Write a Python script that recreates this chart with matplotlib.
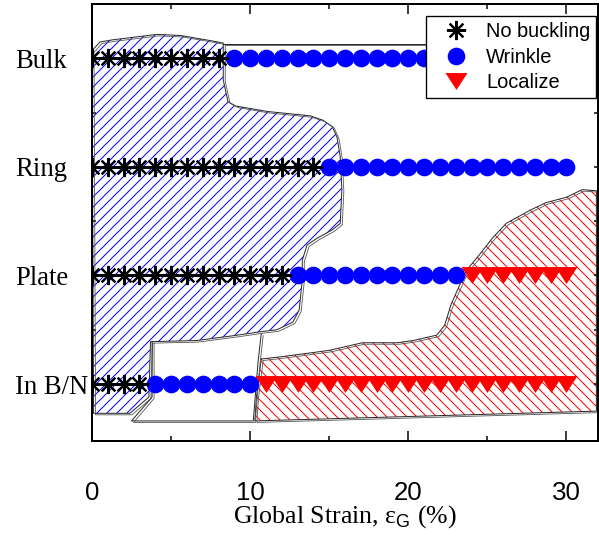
import matplotlib
matplotlib.use("Agg")
import matplotlib.pyplot as plt
import matplotlib.transforms as mtransforms
from matplotlib.patches import Polygon
from matplotlib.lines import Line2D
from matplotlib.path import Path

plt.rcParams['mathtext.fontset'] = 'custom'
plt.rcParams['mathtext.rm'] = 'Liberation Serif'
plt.rcParams['mathtext.sf'] = 'Liberation Sans'
plt.rcParams['hatch.linewidth'] = 0.6

# Specimen types, bottom to top
levels = ["In B/N", "Plate", "Ring", "Bulk"]
level_pos = [1, 2, 3, 4]

# Global strain (%) at which each buckling mode was observed
no_buckling = {
    "Bulk":   [0, 1, 2, 3, 4, 5, 6, 7, 8],
    "Ring":   [0, 1, 2, 3, 4, 5, 6, 7, 8, 9, 10, 11, 12, 13, 14],
    "Plate":  [0, 1, 2, 3, 4, 5, 6, 7, 8, 9, 10, 11, 12],
    "In B/N": [0, 1, 2, 3],
}
wrinkle = {
    "Bulk":   [9, 10, 11, 12, 13, 14, 15, 16, 17, 18, 19, 20, 21, 22, 23, 24,
               25, 26, 27, 28, 29, 30],
    "Ring":   [15, 16, 17, 18, 19, 20, 21, 22, 23, 24, 25, 26, 27, 28, 29, 30],
    "Plate":  [13, 14, 15, 16, 17, 18, 19, 20, 21, 22, 23],
    "In B/N": [4, 5, 6, 7, 8, 9, 10],
}
localize = {
    "Plate":  [24, 25, 26, 27, 28, 29, 30],
    "In B/N": [11, 12, 13, 14, 15, 16, 17, 18, 19, 20, 21, 22, 23, 24, 25,
               26, 27, 28, 29, 30],
}

# Sketched regime boundaries as (strain, level) vertices
no_buckling_region = [
    (0.0, 4.07), (0.5, 4.15), (1.3, 4.17), (4.1, 4.22), (5.6, 4.21),
    (7.6, 4.16), (8.3, 4.14), (8.3, 3.80), (8.6, 3.60), (9.1, 3.56),
    (11.1, 3.51), (13.8, 3.47), (14.6, 3.43), (15.2, 3.37), (15.5, 3.27),
    (15.7, 3.09), (15.8, 2.79), (15.7, 2.48), (15.2, 2.42), (14.2, 2.34),
    (13.6, 2.28), (13.3, 2.14), (13.3, 1.96), (13.1, 1.68), (12.7, 1.57),
    (11.7, 1.50), (10.6, 1.48), (9.2, 1.45), (6.6, 1.40), (3.7, 1.39),
    (3.6, 0.88), (2.4, 0.73), (0.1, 0.73),
]
localize_region = [
    (10.7, 1.23), (11.9, 1.25), (14.0, 1.29), (15.0, 1.31), (17.1, 1.38),
    (19.3, 1.38), (20.3, 1.40), (21.8, 1.45), (22.3, 1.54), (22.7, 1.73),
    (23.4, 1.96), (23.7, 2.05), (24.5, 2.19), (25.3, 2.34), (26.2, 2.48),
    (27.7, 2.60), (28.7, 2.67), (30.0, 2.72), (31.0, 2.79), (31.9, 2.78),
    (31.9, 0.75), (10.3, 0.66), (10.4, 0.88),
]
wrinkle_box_bn = [
    (3.8, 1.39), (3.8, 0.88), (2.5, 0.66), (10.2, 0.66), (10.5, 1.20),
    (10.7, 1.46),
]
wrinkle_box_bulk = [(8.3, 4.135), (32.0, 4.135)]

DPI = 120
fig = plt.figure(figsize=(599 / DPI, 536 / DPI), dpi=DPI)
ax = fig.add_axes([92 / 599, 1 - 441 / 536, (598 - 92) / 599, (441 - 4) / 536])
ax.set_xlim(0, 32)
ax.set_ylim(0.475, 4.5)

shadow = mtransforms.offset_copy(ax.transData, fig=fig, x=2.0, y=-1.5, units='dots')


def sketch_line(pts, closed):
    xs = [p[0] for p in pts]
    ys = [p[1] for p in pts]
    if closed:
        xs.append(xs[0])
        ys.append(ys[0])
    ax.plot(xs, ys, color='#2a2a2a', lw=0.6, zorder=2)
    ax.plot(xs, ys, color='#555555', lw=0.5, zorder=2, transform=shadow)


ax.add_patch(Polygon(no_buckling_region, closed=True, facecolor='none',
                     edgecolor='#0000ff', lw=0, hatch='////', zorder=1))
ax.add_patch(Polygon(localize_region, closed=True, facecolor='none',
                     edgecolor='#ff0000', lw=0, hatch='\\\\\\\\', zorder=1))
sketch_line(no_buckling_region, True)
sketch_line(localize_region, True)
sketch_line(wrinkle_box_bn, False)
sketch_line(wrinkle_box_bulk, False)

star = (8, 2, 0)
# wide, downward-pointing triangle
wide_tri = Path([(-1.3, 1.0), (1.3, 1.0), (0.0, -1.0), (-1.3, 1.0)],
                [Path.MOVETO, Path.LINETO, Path.LINETO, Path.CLOSEPOLY])

STAR_MS, STAR_MEW = 11.5, 1.3
DOT_MS = 10.6
TRI_MS = 13.2

for name, y in zip(levels, level_pos):
    xs = no_buckling.get(name, [])
    ax.plot(xs, [y] * len(xs), linestyle='none', marker=star, ms=STAR_MS,
            mew=STAR_MEW, color='black', zorder=4)
    xs = wrinkle.get(name, [])
    ax.plot(xs, [y] * len(xs), linestyle='none', marker='o', ms=DOT_MS,
            mew=0, color='#0000ff', zorder=3)
    xs = localize.get(name, [])
    ax.plot(xs, [y] * len(xs), linestyle='none', marker=wide_tri, ms=TRI_MS,
            mew=0, color='#ff0000', zorder=3)

for s in ax.spines.values():
    s.set_linewidth(1.2)

ax.set_xticks([0, 10, 20, 30])
ax.set_xticks([5, 15, 25], minor=True)
ax.tick_params(axis='x', which='both', direction='in', top=True, bottom=True,
               width=0.9, labelsize=15.5)
ax.tick_params(axis='x', which='major', length=6, pad=24)
ax.tick_params(axis='x', which='minor', length=3)
for lab in ax.get_xticklabels():
    lab.set_fontfamily('Liberation Sans')

ax.set_yticks(level_pos, labels=levels)
ax.set_yticks([1.5, 2.5, 3.5], minor=True)
ax.tick_params(axis='y', which='both', direction='in', left=True, right=True,
               width=0.9, length=2.5, labelsize=16, pad=46)
for lab in ax.get_yticklabels():
    lab.set_fontfamily('Liberation Serif')
    lab.set_horizontalalignment('left')

ax.set_xlabel('Global Strain, ε$_\\mathsf{G}$ (%)', fontfamily='Liberation Serif',
              fontsize=15.5, labelpad=-1)

handles = [
    Line2D([], [], linestyle='none', marker=star, ms=STAR_MS, mew=STAR_MEW, color='black'),
    Line2D([], [], linestyle='none', marker='o', ms=DOT_MS, mew=0, color='#0000ff'),
    Line2D([], [], linestyle='none', marker=wide_tri, ms=TRI_MS, mew=0, color='#ff0000'),
]
leg = ax.legend(handles, ["No buckling", "Wrinkle", "Localize"],
                loc='upper left', bbox_to_anchor=((426 - 92) / 506, (441 - 16) / 437),
                borderaxespad=0, prop={'family': 'Liberation Sans', 'size': 12},
                fancybox=False, edgecolor='black', framealpha=1,
                borderpad=0.3, handlelength=2.4, handletextpad=0.3,
                labelspacing=0.33)
leg.get_frame().set_linewidth(0.8)
leg.set_zorder(10)

fig.savefig('out.png', dpi=DPI)
